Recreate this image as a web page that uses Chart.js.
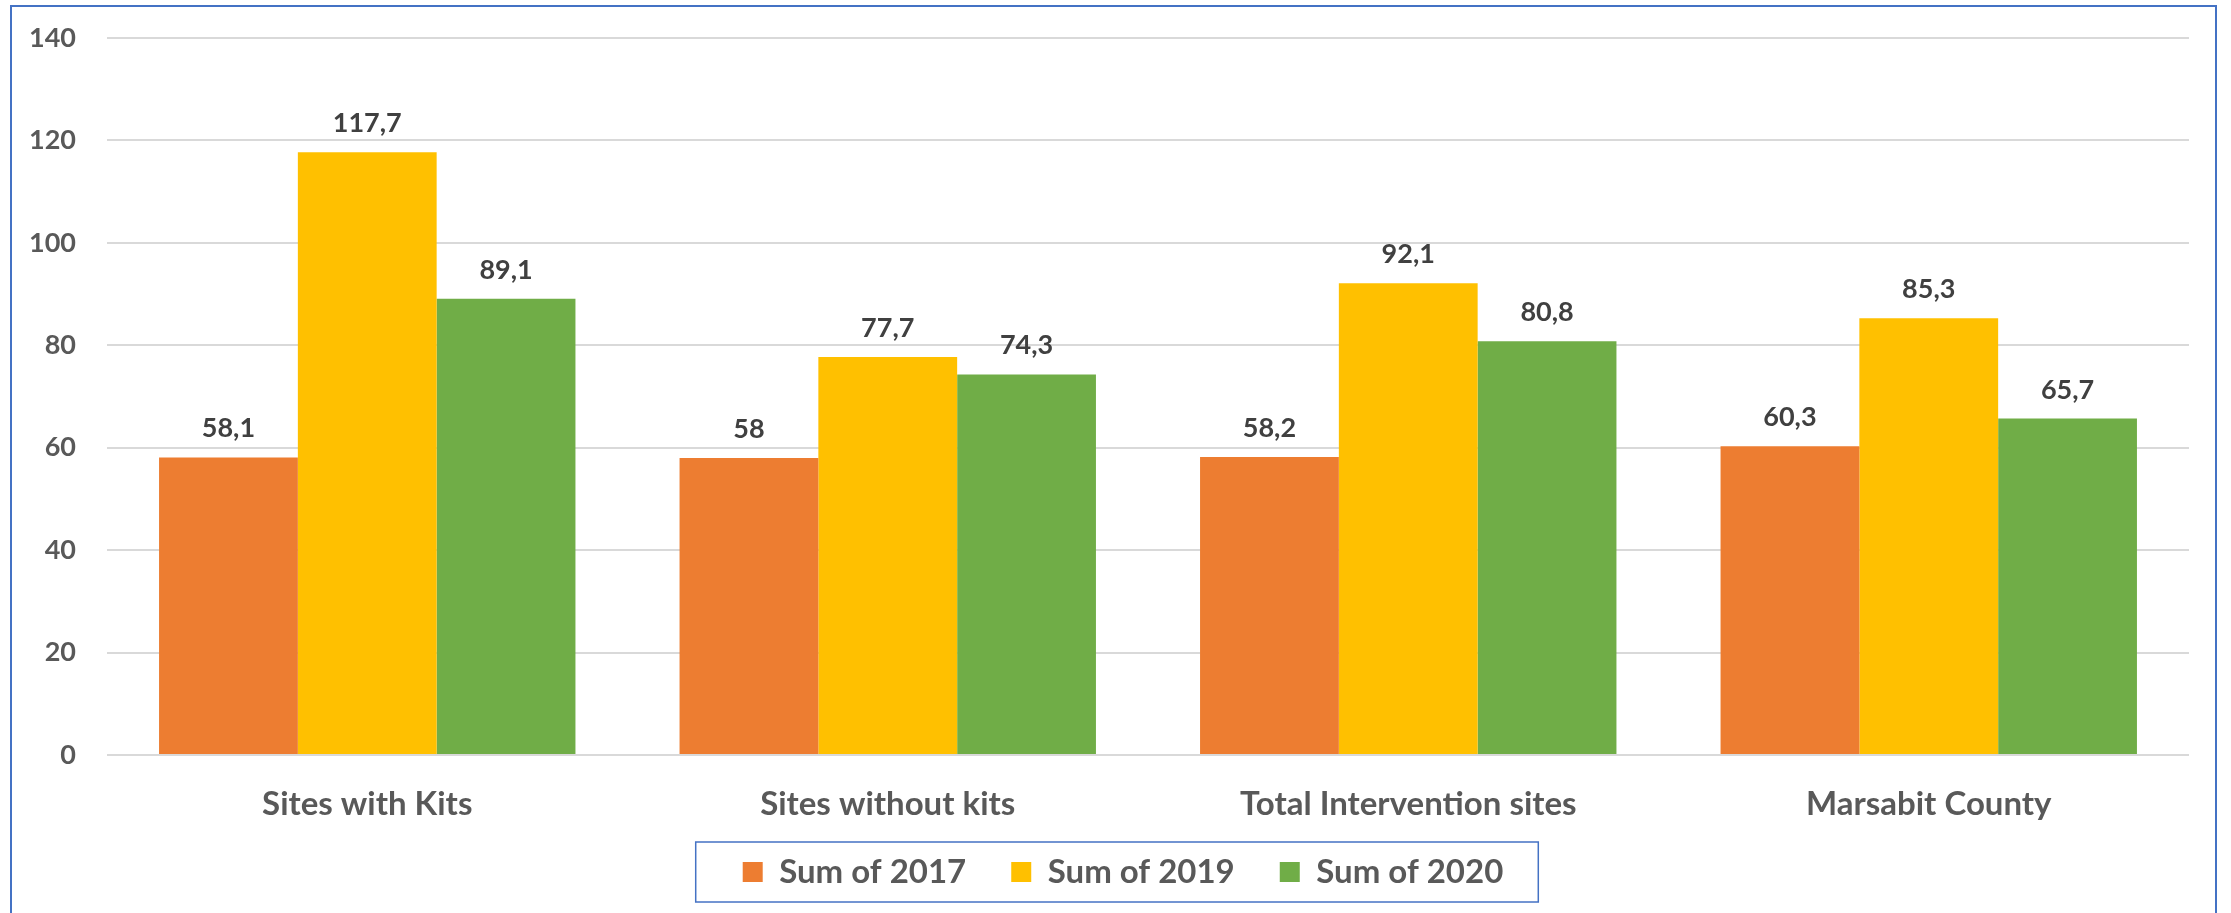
<!DOCTYPE html>
<html lang="en">
<head>
    <meta charset="UTF-8">
    <title>Sum of 2017 / 2019 / 2020</title>
    <script src="https://cdn.jsdelivr.net/npm/chart.js"></script>
    <style>
        html, body { margin: 0; padding: 0; background: #fff; overflow: hidden; }
        .frame { position: absolute; left: 10px; top: 5px; width: 2207px; height: 1000px; border: 2px solid #4472C4; box-sizing: border-box; }
        .chart-box { position: absolute; left: 0; top: 0; width: 2231px; height: 913px; }
    </style>
</head>
<body>
    <div class="frame"></div>
    <div class="chart-box"><canvas id="sumChart" width="2231" height="913"></canvas></div>
    <script>
        // data
        const categories = ['Sites with Kits', 'Sites without kits', 'Total Intervention sites', 'Marsabit County'];
        const sum2017 = [58.1, 58, 58.2, 60.3];
        const sum2019 = [117.7, 77.7, 92.1, 85.3];
        const sum2020 = [89.1, 74.3, 80.8, 65.7];
        const yTicks = [0, 20, 40, 60, 80, 100, 120, 140];

        const FONT = 'Lato, "Open Sans", sans-serif';

        // value labels above each bar (decimal comma like the original)
        const barLabels = {
            id: 'barLabels',
            afterDatasetsDraw(chart) {
                const ctx = chart.ctx;
                ctx.save();
                ctx.font = 'bold 27px ' + FONT;
                ctx.fillStyle = '#404040';
                ctx.textAlign = 'center';
                ctx.textBaseline = 'alphabetic';
                chart.data.datasets.forEach((ds, i) => {
                    chart.getDatasetMeta(i).data.forEach((bar, j) => {
                        ctx.fillText(String(ds.data[j]).replace('.', ','), bar.x, bar.y - 20);
                    });
                });
                ctx.restore();
            }
        };

        // legend: the label padding also drives the row height, so give the
        // legend box some room after layout, then frame it in blue
        const legendFrame = {
            id: 'legendFrame',
            afterLayout(chart) {
                const lg = chart.legend;
                const pad = lg.options.labels.padding;
                lg.top = lg.top - 19.5;
                lg.bottom = lg.top + 2 * pad + 80;
                lg.height = lg.bottom - lg.top;
                lg.left += 47;
                lg.width = lg.right - lg.left;
            },
            afterDraw(chart) {
                const hb = chart.legend.legendHitBoxes;
                if (!hb || !hb.length) return;
                const last = hb[hb.length - 1];
                const cy = hb[0].top + hb[0].height / 2;
                const ctx = chart.ctx;
                ctx.save();
                ctx.strokeStyle = '#4472C4';
                ctx.lineWidth = 1.5;
                ctx.strokeRect(hb[0].left - 47, cy - 30, last.left + last.width + 35 - (hb[0].left - 47), 60);
                ctx.restore();
            }
        };

        new Chart(document.getElementById('sumChart'), {
            type: 'bar',
            data: {
                labels: categories,
                datasets: [
                    { label: 'Sum of 2017', data: sum2017, backgroundColor: '#ED7D31' },
                    { label: 'Sum of 2019', data: sum2019, backgroundColor: '#FFC000' },
                    { label: 'Sum of 2020', data: sum2020, backgroundColor: '#70AD47' }
                ]
            },
            options: {
                responsive: false,
                animation: false,
                layout: { padding: { left: 10, right: 42, top: 38, bottom: 23 } },
                datasets: { bar: { categoryPercentage: 0.8, barPercentage: 1.0 } },
                scales: {
                    x: {
                        grid: { display: false, drawTicks: false },
                        border: { display: false },
                        ticks: { color: '#595959', font: { family: FONT, size: 33, weight: 'bold' }, padding: 30 },
                        afterFit(scale) { scale.height = 75; }
                    },
                    y: {
                        min: 0,
                        max: 140,
                        afterBuildTicks(scale) { scale.ticks = yTicks.map(v => ({ value: v })); },
                        grid: { color: '#D9D9D9', lineWidth: 2, drawTicks: false },
                        border: { display: false },
                        ticks: { color: '#595959', font: { family: FONT, size: 27, weight: 'bold' }, padding: 31 },
                        afterFit(scale) {
                            scale.width = 97;
                            // tick padding is meant for the gap to the plot, not above/below it
                            scale.paddingTop = 18;
                            scale.paddingBottom = 18;
                        }
                    }
                },
                plugins: {
                    legend: {
                        position: 'bottom',
                        maxHeight: 60,
                        labels: {
                            boxWidth: 20,
                            boxHeight: 20,
                            padding: 45,
                            color: '#595959',
                            font: { family: FONT, size: 33, weight: 'bold' }
                        }
                    },
                    tooltip: { enabled: false }
                }
            },
            plugins: [barLabels, legendFrame]
        });
    </script>
</body>
</html>
